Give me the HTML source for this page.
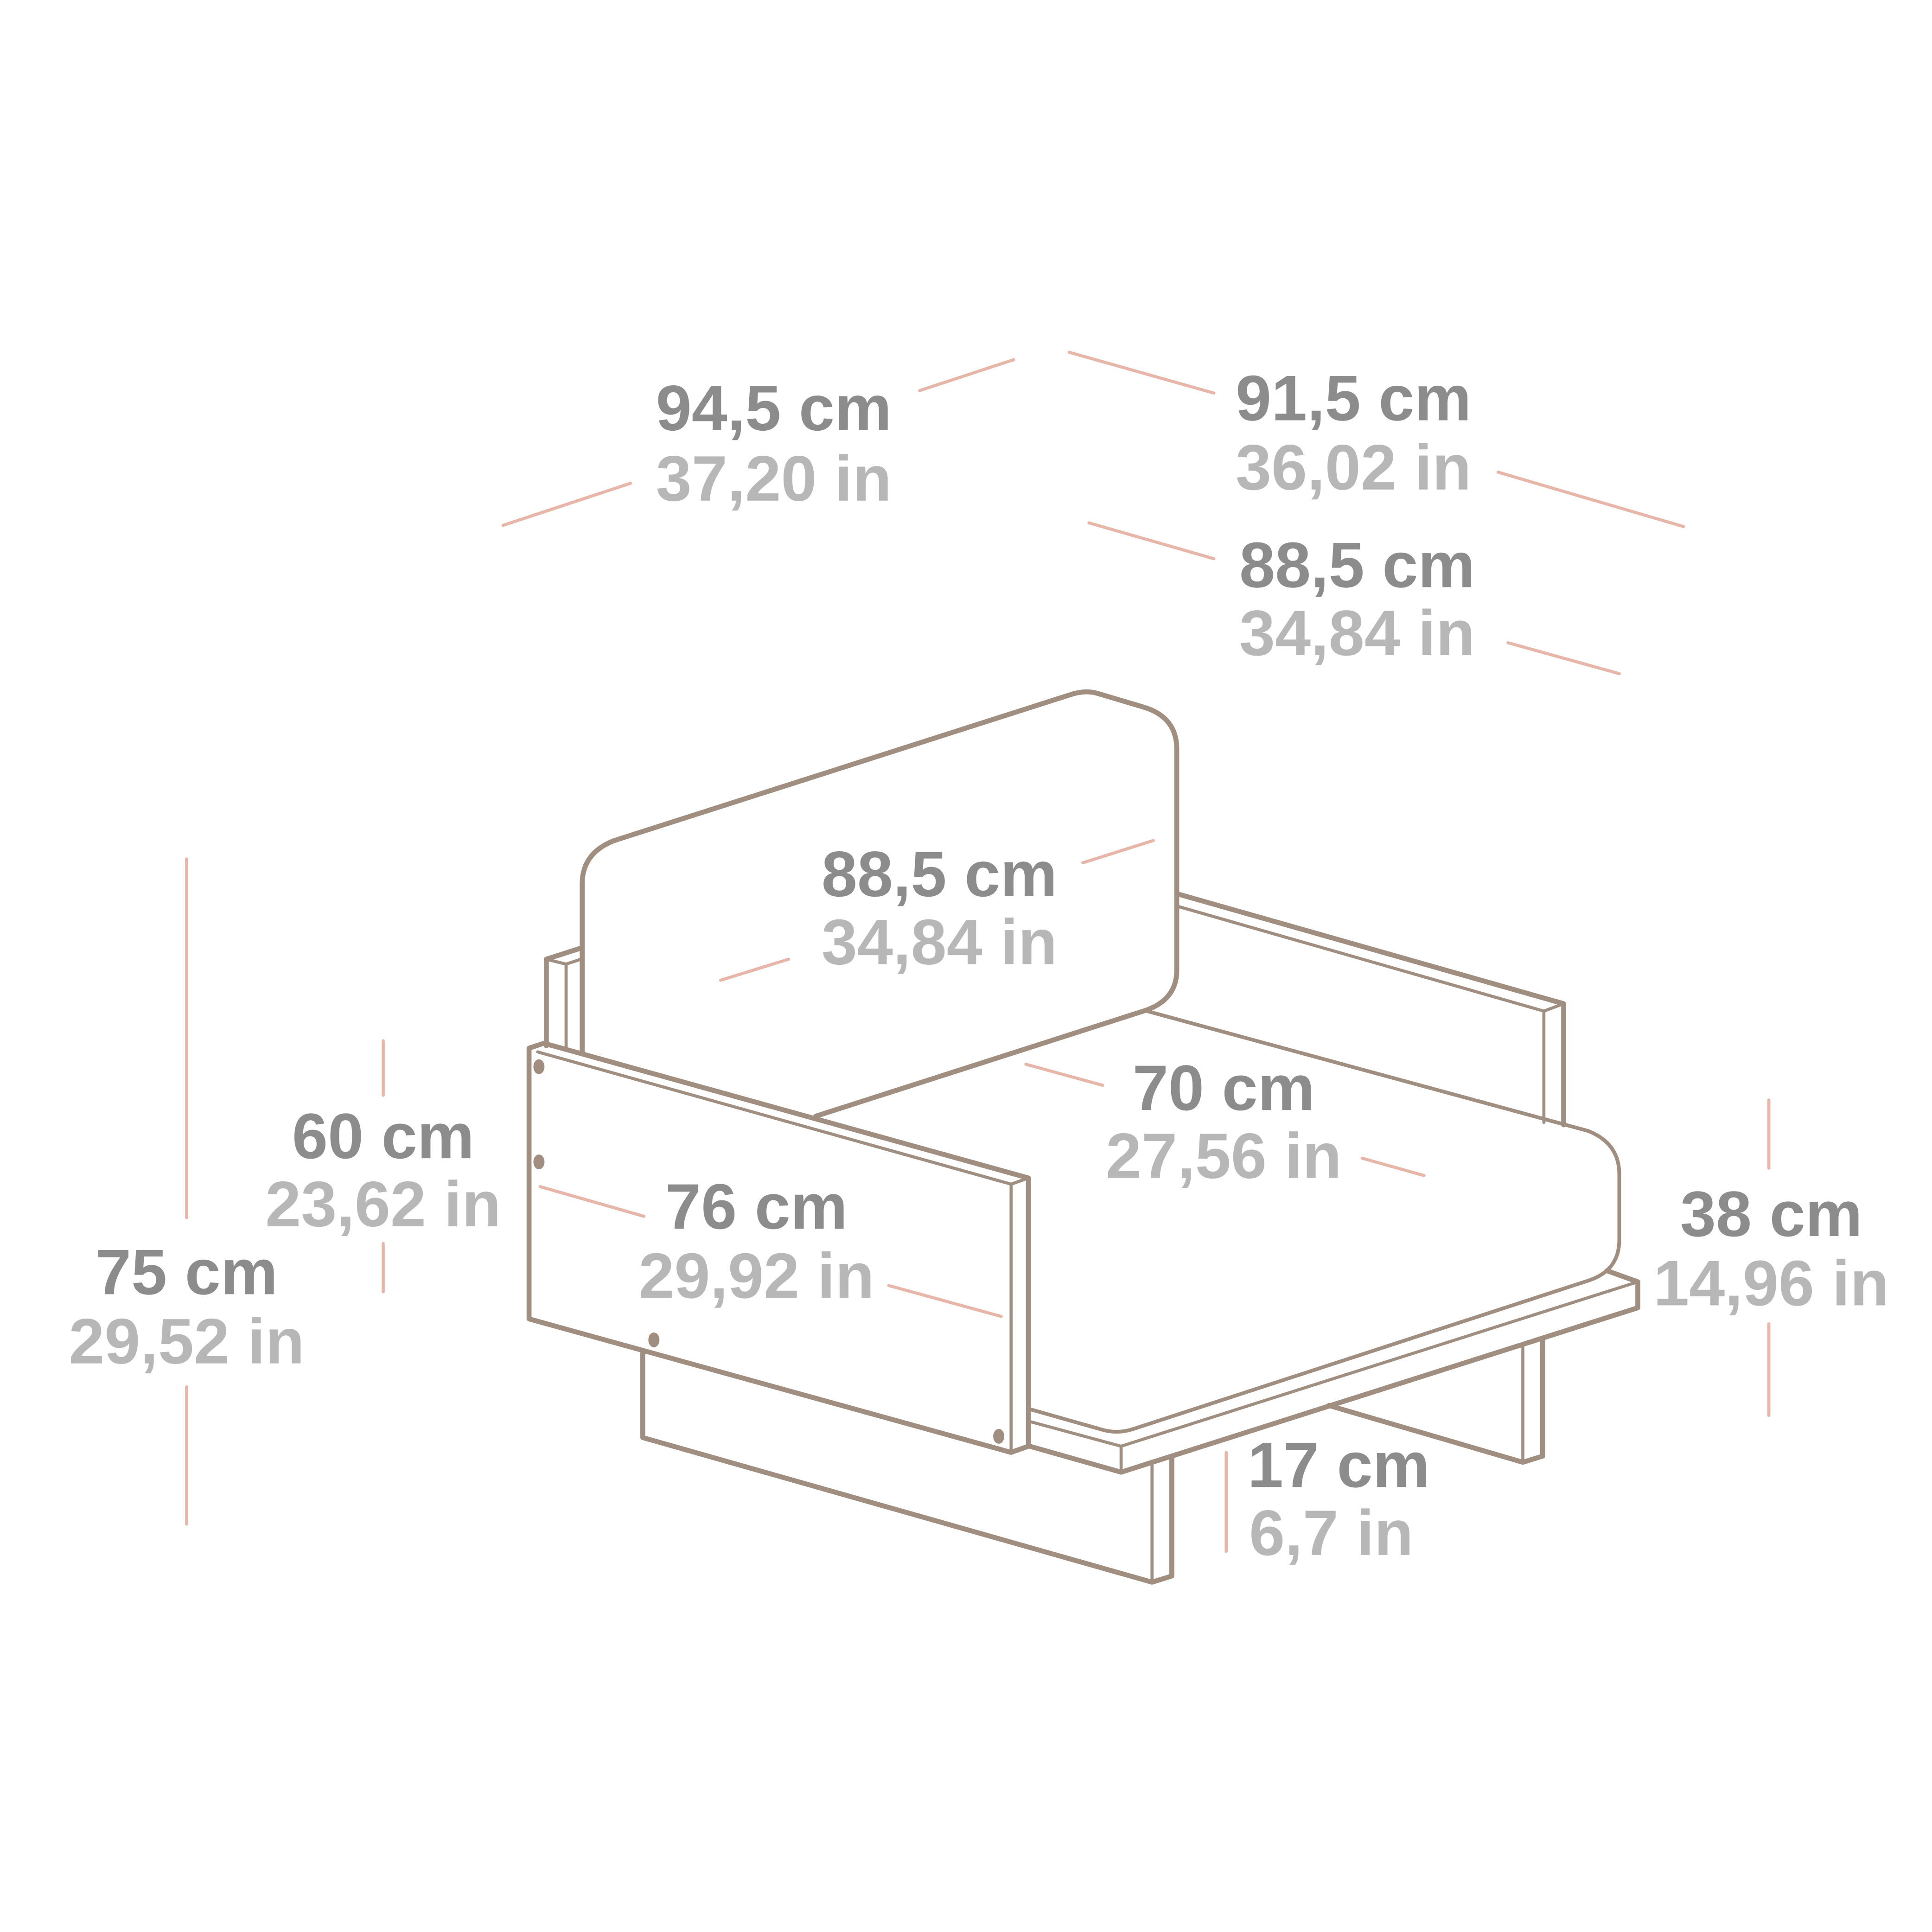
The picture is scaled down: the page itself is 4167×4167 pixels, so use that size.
<!DOCTYPE html>
<html><head><meta charset="utf-8"><style>
html,body{margin:0;padding:0;background:#fff;}
svg{display:block;}
text{font-family:"Liberation Sans",sans-serif;font-weight:bold;font-size:52px;text-anchor:middle;}
.c{fill:#8c8c8c;}
.i{fill:#b7b7b7;}
</style></head><body>
<svg width="4167" height="4167" viewBox="0 0 1563 1563" xmlns="http://www.w3.org/2000/svg">
<g fill="none" stroke="#a08e80" stroke-linejoin="round" stroke-linecap="round">
<!-- legs -->
<path d="M520,1093 L520,1163 L932,1280 L948,1275 L948,1180" stroke-width="4"/>
<path d="M932,1185 L932,1280" stroke-width="2.5"/>
<path d="M1075,1137 L1232,1183 L1248,1178 L1248,1083" stroke-width="4"/>
<path d="M1232,1090 L1232,1183" stroke-width="2.5"/>
<!-- base -->
<path d="M1300,1028 L1325,1037 L1325,1058 L907,1191 L833,1170" stroke-width="4"/>
<path d="M907,1170 L1325,1037 M907,1170 L907,1191 M833,1150 L907,1170" stroke-width="2.5"/>
<!-- right armrest -->
<path d="M952,723 L1265,812 L1265,910" stroke-width="4"/>
<path d="M952,733 L1249,818 L1249,908 M1249,818 L1265,812" stroke-width="2.5"/>
<!-- seat cushion -->
<path d="M928,818 L1285,915 Q1310,925 1310,950 L1310,1003 Q1310,1028 1285,1036 L917,1156 Q905,1160 893,1157 L833,1140" stroke-width="3"/>
<!-- backrest -->
<path d="M471,852 L471,715 Q471,690 497,680 L866,562 Q878,558 888,561 L925,572 Q952,580 952,606 L952,785 Q952,808 928,817 L660,903" stroke-width="4"/>
<!-- back left armrest -->
<path d="M442,846 L442,776 L470,767" stroke-width="4"/>
<path d="M458,848 L458,780 L470,776 M442,776 L458,780" stroke-width="2.5"/>
<!-- front left armrest -->
<path d="M428,848 L428,1067 L818,1175 L832,1170 L832,953 L440,844 Z" stroke-width="4"/>
<path d="M435,851 L818,958 L818,1175 M818,958 L832,953" stroke-width="2.5"/>
</g>
<g fill="#a08e80">
<ellipse cx="436" cy="863" rx="4.5" ry="6"/>
<ellipse cx="436" cy="940" rx="4.5" ry="6"/>
<ellipse cx="529" cy="1084" rx="4.5" ry="6"/>
<ellipse cx="808" cy="1162" rx="4.5" ry="6"/>
</g>
<g stroke="#e8b6a8" stroke-width="2.5" stroke-linecap="round">
<line x1="744" y1="316" x2="820" y2="291"/>
<line x1="407" y1="425" x2="510" y2="391"/>
<line x1="865" y1="285" x2="982" y2="318"/>
<line x1="1212" y1="382" x2="1362" y2="426"/>
<line x1="881" y1="423" x2="982" y2="452"/>
<line x1="1220" y1="520" x2="1310" y2="545"/>
<line x1="876" y1="698" x2="933" y2="680"/>
<line x1="583" y1="793" x2="638" y2="776"/>
<line x1="830" y1="861" x2="892" y2="878"/>
<line x1="1102" y1="937" x2="1152" y2="951"/>
<line x1="437" y1="960" x2="521" y2="984"/>
<line x1="719" y1="1040" x2="810" y2="1065"/>
<line x1="151" y1="695" x2="151" y2="985"/>
<line x1="151" y1="1122" x2="151" y2="1233"/>
<line x1="310" y1="842" x2="310" y2="886"/>
<line x1="310" y1="1006" x2="310" y2="1045"/>
<line x1="1431" y1="890" x2="1431" y2="945"/>
<line x1="1431" y1="1071" x2="1431" y2="1145"/>
<line x1="992" y1="1175" x2="992" y2="1255"/>
</g>
<text class="c" x="626" y="348">94,5 cm</text>
<text class="i" x="626" y="405">37,20 in</text>
<text class="c" x="1095" y="340">91,5 cm</text>
<text class="i" x="1095" y="396">36,02 in</text>
<text class="c" x="1098" y="475">88,5 cm</text>
<text class="i" x="1098" y="530">34,84 in</text>
<text class="c" x="760" y="725">88,5 cm</text>
<text class="i" x="760" y="780">34,84 in</text>
<text class="c" x="990" y="898">70 cm</text>
<text class="i" x="990" y="953">27,56 in</text>
<text class="c" x="310" y="937">60 cm</text>
<text class="i" x="310" y="992">23,62 in</text>
<text class="c" x="612" y="994">76 cm</text>
<text class="i" x="612" y="1050">29,92 in</text>
<text class="c" x="151" y="1047">75 cm</text>
<text class="i" x="151" y="1103">29,52 in</text>
<text class="c" x="1433" y="1000">38 cm</text>
<text class="i" x="1433" y="1056">14,96 in</text>
<text class="c" x="1083" y="1203">17 cm</text>
<text class="i" x="1077" y="1258">6,7 in</text>
</svg>
</body></html>
